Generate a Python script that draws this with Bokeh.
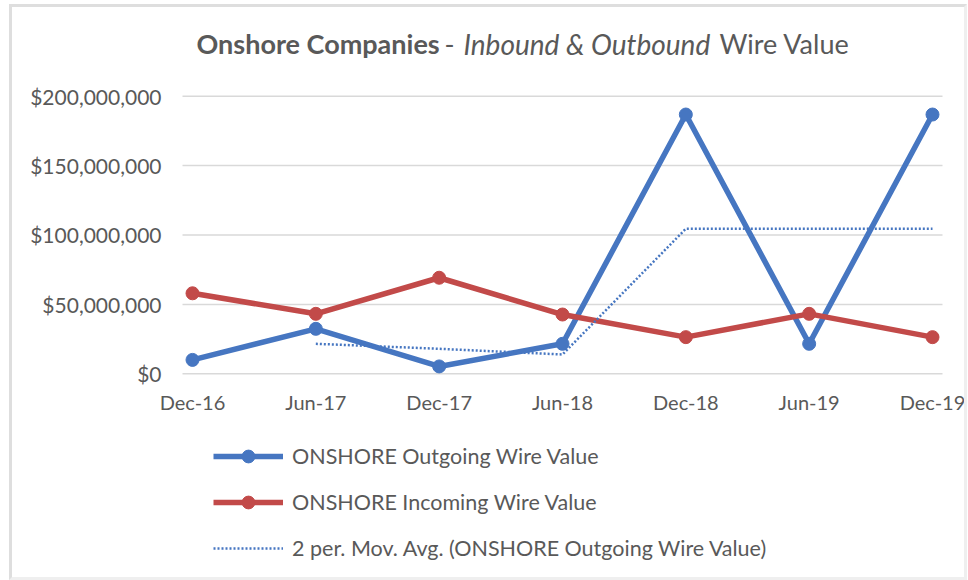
from bokeh.plotting import figure
from bokeh.models import (Range1d, FixedTicker, NumeralTickFormatter, Legend, LegendItem,
                          Label, CustomJSTickFormatter)
from bokeh.embed import file_html
from bokeh.resources import INLINE

# ---- data ----
categories = ["Dec-16", "Jun-17", "Dec-17", "Jun-18", "Dec-18", "Jun-19", "Dec-19"]
outgoing = [10.0e6, 32.4e6, 5.3e6, 21.6e6, 186.8e6, 21.6e6, 186.8e6]
incoming = [58.0e6, 43.2e6, 69.2e6, 42.7e6, 26.4e6, 43.2e6, 26.4e6]
mov_avg_periods = ["Jun-17", "Dec-17", "Jun-18", "Dec-18", "Jun-19", "Dec-19"]
mov_avg = [21.6e6, 18.0e6, 13.9e6, 104.5e6, 104.5e6, 104.5e6]
y_ticks = [0, 50e6, 100e6, 150e6, 200e6]

title_parts = ["Onshore Companies", "-", "Inbound & Outbound", "Wire Value"]
series_names = ["ONSHORE Outgoing Wire Value", "ONSHORE Incoming Wire Value",
                "2 per. Mov. Avg. (ONSHORE Outgoing Wire Value)"]

BLUE = "#4676C1"
RED = "#C24A49"
TEXT = "#595959"
GRID = "#D9D9D9"
FONT = "Lato"

xs = list(range(len(categories)))
xs_ma = [categories.index(c) for c in mov_avg_periods]

# plot-area extent (category units) over which the horizontal gridlines run
GRID_X0, GRID_X1 = -0.081, 6.081

# frame spans most of the chart so title/legend/axis annotations are not clipped
p = figure(width=966, height=578, output_backend="svg", toolbar_location=None,
           x_axis_location="above",
           x_range=Range1d(-0.3406, 6.2757), y_range=Range1d(-147.5e6, 245.9e6),
           min_border_left=150, min_border_right=0, min_border_top=32, min_border_bottom=0)
p.outline_line_color = None
p.background_fill_color = "white"
p.border_fill_color = "white"
p.stylesheets = [""":host::after { content: ""; position: absolute; left: 9px; top: 4px;
  width: 952px; height: 570px; border: 3px solid #DEDEDE; border-right-color: #EFEFEF;
  border-bottom-color: #EFEFEF; pointer-events: none; }"""]

# axes
p.yaxis.ticker = FixedTicker(ticks=y_ticks)
p.yaxis.formatter = NumeralTickFormatter(format="$0,0")
p.xaxis.ticker = FixedTicker(ticks=xs)
p.xaxis.formatter = CustomJSTickFormatter(args=dict(labels=categories),
                                          code="const i = Math.round(tick); return labels[i] || '';")
p.xaxis.fixed_location = -33.0e6
for ax in (p.xaxis, p.yaxis):
    ax.axis_line_color = None
    ax.major_tick_line_color = None
    ax.minor_tick_line_color = None
    ax.major_tick_out = 0
    ax.major_tick_in = 0
    ax.minor_tick_out = 0
    ax.major_label_text_font = FONT
    ax.major_label_text_color = TEXT
p.yaxis.major_label_text_font_size = "21px"
p.xaxis.major_label_text_font_size = "20px"
p.yaxis.major_label_standoff = -11
p.xaxis.major_label_standoff = 6

# horizontal gridlines limited to the plot area
p.xgrid.grid_line_color = None
p.ygrid.grid_line_color = None
p.segment(x0=[GRID_X0] * len(y_ticks), x1=[GRID_X1] * len(y_ticks), y0=y_ticks, y1=y_ticks,
          line_color=GRID, line_width=1.5)

# series
r_out_line = p.line(xs, outgoing, line_color=BLUE, line_width=5.5, line_join="round")
r_out_pts = p.scatter(xs, outgoing, size=13, fill_color=BLUE, line_color=BLUE)
r_in_line = p.line(xs, incoming, line_color=RED, line_width=5.5, line_join="round")
r_in_pts = p.scatter(xs, incoming, size=13, fill_color=RED, line_color=RED)
r_ma = p.line(xs_ma, mov_avg, line_color=BLUE, line_width=2.5, line_dash="2 2")

legend = Legend(items=[
    LegendItem(label=series_names[0], renderers=[r_out_line, r_out_pts]),
    LegendItem(label=series_names[1], renderers=[r_in_line, r_in_pts]),
    LegendItem(label=series_names[2], renderers=[r_ma]),
], location=(63, 14), orientation="vertical", glyph_width=70, glyph_height=32,
    label_height=26, spacing=14, padding=0, margin=0, label_standoff=9,
    border_line_color=None, background_fill_alpha=0,
    label_text_font=FONT, label_text_font_size="21.5px", label_text_color=TEXT)
p.add_layout(legend)

# title made of differently styled pieces
title_x = [46, 294, 313, 569]
title_styles = ["bold", "normal", "italic", "normal"]
title_sizes = ["27px", "27px", "28px", "27px"]
for txt, tx, st, fs in zip(title_parts, title_x, title_styles, title_sizes):
    p.add_layout(Label(x=tx, y=535, x_units="screen", y_units="screen", text=txt,
                       text_font=FONT, text_font_style=st, text_font_size=fs,
                       text_color=TEXT, text_baseline="middle", text_align="left"))

open("out.html", "w").write(file_html(p, INLINE))
